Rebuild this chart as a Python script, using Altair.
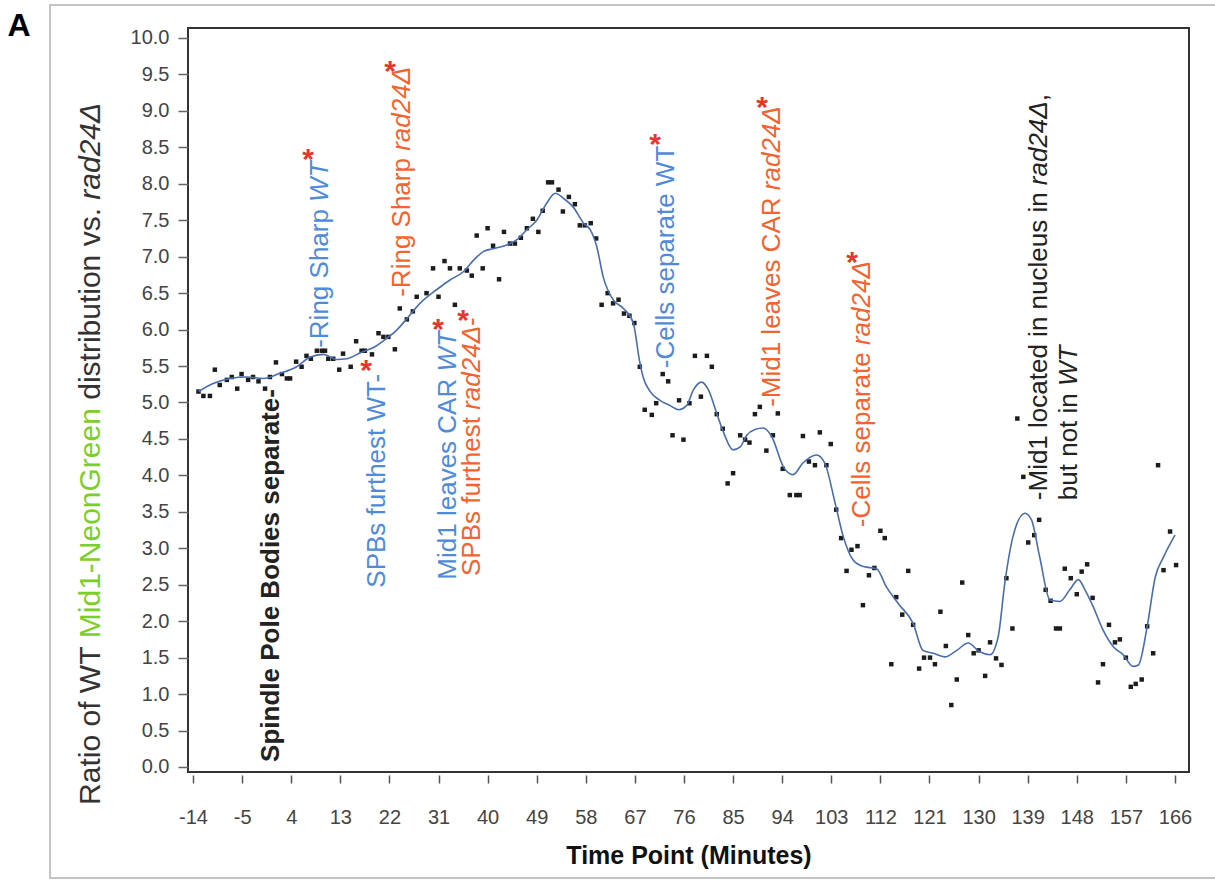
import altair as alt
import pandas as pd

# ---------------- data ----------------
X_TICKS = [-14, -5, 4, 13, 22, 31, 40, 49, 58, 67, 76, 85, 94, 103, 112, 121, 130, 139, 148, 157, 166]
Y_TICKS = [0.0, 0.5, 1.0, 1.5, 2.0, 2.5, 3.0, 3.5, 4.0, 4.5, 5.0, 5.5, 6.0, 6.5, 7.0,
           7.5, 8.0, 8.5, 9.0, 9.5, 10.0]

PT_T = [-13.0, -12.1, -10.9, -10.0, -9.1, -7.8, -6.9, -5.9, -5.1, -3.9, -3.0, -2.0, -0.8, 0.1,
        1.2, 2.3, 3.2, 3.8, 4.9, 5.9, 6.8, 7.6, 8.7, 9.6, 10.2, 10.8, 11.7, 12.8, 13.5, 14.9,
        15.9, 16.9, 17.5, 18.8, 20.0, 20.9, 21.8, 23.0, 23.9, 25.2, 26.3, 27.0, 28.8, 30.0,
        31.0, 32.1, 33.1, 34.0, 34.9, 36.2, 37.1, 38.0, 39.1, 40.0, 41.0, 42.1, 43.0, 44.1,
        45.0, 46.1, 47.2, 48.3, 49.3, 50.1, 51.1, 51.8, 53.0, 53.8, 54.9, 56.0, 56.9, 57.8,
        58.9, 59.9, 60.9, 62.0, 63.0, 64.0, 65.0, 66.0, 66.9, 67.9, 68.8, 70.1, 70.9, 72.1,
        73.1, 73.9, 75.1, 75.9, 77.0, 78.0, 79.1, 80.2, 81.1, 82.0, 83.1, 84.0, 85.0, 86.3,
        87.2, 88.0, 89.0, 89.9, 91.1, 92.3, 93.2, 94.1, 95.4, 96.6, 97.2, 97.8, 98.9, 100.0,
        100.9, 102.1, 102.9, 103.9, 104.8, 105.8, 106.7, 107.8, 108.8, 109.9, 110.9, 112.0,
        112.8, 114.0, 114.9, 116.0, 117.1, 118.0, 119.1, 120.0, 121.1, 122.0, 123.0, 124.0,
        125.0, 126.0, 127.0, 128.1, 129.1, 130.0, 131.2, 132.1, 133.2, 134.2, 135.1, 136.2,
        137.1, 138.2, 139.1, 140.2, 141.1, 142.3, 143.2, 144.2, 144.9, 145.8, 146.9, 148.0,
        148.9, 149.9, 150.9, 151.9, 152.8, 153.9, 155.0, 155.9, 157.0, 157.9, 158.8, 159.9,
        160.9, 162.0, 162.9, 163.9, 165.1, 166.2]
PT_V = [5.15, 5.09, 5.09, 5.45, 5.24, 5.31, 5.35, 5.19, 5.39, 5.31, 5.35, 5.29, 5.19, 5.35,
        5.55, 5.39, 5.33, 5.33, 5.56, 5.49, 5.64, 5.60, 5.71, 5.71, 5.71, 5.60, 5.60, 5.45, 5.67, 5.49,
        5.84, 5.71, 5.71, 5.66, 5.95, 5.90, 5.90, 5.73, 6.29, 6.14, 6.25, 6.45, 6.50, 6.84,
        6.45, 6.94, 6.84, 6.34, 6.84, 6.81, 6.74, 7.29, 6.84, 7.39, 7.15, 6.69, 7.34, 7.18,
        7.18, 7.26, 7.39, 7.52, 7.34, 7.63, 8.02, 8.02, 7.92, 7.62, 7.82, 7.72, 7.43, 7.43,
        7.46, 7.25, 6.34, 6.50, 6.36, 6.41, 6.22, 6.19, 6.09, 5.49, 4.90, 4.83, 4.99, 5.39,
        5.29, 4.55, 5.03, 4.49, 4.99, 5.64, 5.08, 5.64, 5.49, 4.84, 4.64, 3.89, 4.03, 4.55,
        4.49, 4.45, 4.84, 4.94, 4.34, 4.55, 4.85, 4.09, 3.73, 3.73, 3.73, 4.54, 4.19, 4.14,
        4.59, 4.14, 4.43, 3.53, 3.14, 2.69, 2.98, 3.03, 2.22, 2.63, 2.73, 3.24,
        3.14, 1.41, 2.33, 2.09, 2.69, 1.95, 1.35, 1.50, 1.50, 1.41, 2.13, 1.66,
        0.85, 1.20, 2.53, 1.81, 1.56, 1.60, 1.25, 1.71, 1.49, 1.40, 2.59, 1.90,
        4.78, 3.98, 3.08, 3.18, 3.39, 2.43, 2.28, 1.90, 1.90, 2.72, 2.59, 2.37,
        2.68, 2.78, 2.32, 1.16, 1.41, 1.95, 1.71, 1.75, 1.50, 1.10, 1.14, 1.20,
        1.93, 1.56, 4.14, 2.70, 3.23, 2.77]

FIT_T = [-13.0, -10.3, -7.2, -4.2, -1.1, 1.9, 5.0, 7.4, 9.9, 12.3, 14.2, 16.9, 19.0, 21.5,
         23.3, 25.2, 27.6, 30.7, 33.1, 35.5, 37.4, 39.2, 41.0, 43.5, 45.3, 47.2, 49.0, 50.8,
         52.4, 53.9, 55.7, 57.6, 58.8, 60.0, 61.2, 63.0, 64.9, 66.7, 67.9, 68.5, 69.8, 71.6,
         73.4, 75.0, 76.5, 77.7, 79.2, 80.5, 82.0, 83.2, 85.0, 86.3, 87.5, 89.0, 90.5, 92.1,
         94.2, 96.0, 97.8, 100.3, 101.8, 103.7, 105.2, 107.0, 108.9, 111.3, 113.1, 115.3,
         118.0, 119.8, 121.7, 123.8, 126.0, 128.1, 130.2, 132.1, 133.6, 134.8, 136.3, 138.5,
         139.7, 141.2, 143.1, 144.9, 146.7, 148.3, 149.5, 151.0, 152.8, 154.7, 156.5, 158.3,
         159.3, 160.8, 162.4, 163.9, 166.0]
FIT_V = [5.15, 5.26, 5.33, 5.35, 5.33, 5.40, 5.49, 5.62, 5.66, 5.59, 5.60, 5.69, 5.75, 5.88,
         5.99, 6.15, 6.36, 6.55, 6.68, 6.79, 6.95, 7.07, 7.11, 7.16, 7.23, 7.37, 7.50, 7.73,
         7.87, 7.80, 7.68, 7.46, 7.37, 7.14, 6.72, 6.41, 6.29, 6.09, 5.55, 5.35, 5.15, 5.03,
         4.96, 4.90, 4.96, 5.17, 5.28, 5.17, 4.85, 4.60, 4.35, 4.39, 4.55, 4.63, 4.65, 4.53,
         4.12, 4.01, 4.17, 4.28, 4.17, 3.62, 3.16, 2.84, 2.75, 2.72, 2.47, 2.24,
         1.97, 1.60, 1.56, 1.51, 1.60, 1.70, 1.58, 1.54, 1.79, 2.52, 3.16, 3.48,
         3.39, 2.88, 2.29, 2.27, 2.43, 2.57, 2.43, 2.20, 1.88, 1.65, 1.54, 1.38,
         1.40, 1.88, 2.61, 2.88, 3.18]

BLUE = "#4f8bd9"
ORANGE = "#f2632f"
RED = "#e8352b"
DARK = "#222222"
GREEN = "#7ccf2a"

# annotation texts: (time, value where text starts, font size, segments)
ANN_X = [0.30, 9.28, 24.31, 19.73, 32.74, 37.14, 72.70, 92.13, 108.63, 141.08, 146.58, -32.7]
ANN_Y = [0.07, 5.75, 6.45, 2.46, 2.57, 2.62, 5.47, 4.94, 3.29, 3.66, 3.66, -0.52]
ANN_FS = [26, 26, 26, 26, 26, 26, 26, 26, 26, 26, 26, 30]
ANN_SEGS = [
    [("Spindle Pole Bodies separate-", DARK, "normal", "bold")],
    [("-Ring Sharp ", BLUE, "normal", "normal"), ("WT", BLUE, "italic", "normal")],
    [("-Ring Sharp ", ORANGE, "normal", "normal"), ("rad24Δ", ORANGE, "italic", "normal")],
    [("SPBs furthest WT-", BLUE, "normal", "normal")],
    [("Mid1 leaves CAR ", BLUE, "normal", "normal"), ("WT", BLUE, "italic", "normal")],
    [("SPBs furthest ", ORANGE, "normal", "normal"), ("rad24Δ", ORANGE, "italic", "normal"),
     ("-", ORANGE, "normal", "normal")],
    [("-Cells separate WT", BLUE, "normal", "normal")],
    [("-Mid1 leaves CAR ", ORANGE, "normal", "normal"), ("rad24Δ", ORANGE, "italic", "normal")],
    [("-Cells separate ", ORANGE, "normal", "normal"), ("rad24Δ", ORANGE, "italic", "normal")],
    [("-Mid1 located in nucleus in ", DARK, "normal", "normal"), ("rad24Δ", DARK, "italic", "normal"),
     (",", DARK, "normal", "normal")],
    [("but not in ", DARK, "normal", "normal"), ("WT", DARK, "italic", "normal")],
    [("Ratio of WT ", "#333333", "normal", "normal"), ("Mid1-NeonGreen", GREEN, "normal", "normal"),
     (" distribution vs. ", "#333333", "normal", "normal"), ("rad24Δ", "#333333", "italic", "normal")],
]

STAR_X = [7.08, 22.11, 17.71, 30.91, 35.49, 70.69, 90.30, 106.80]
STAR_Y = [8.44, 9.64, 5.54, 6.10, 6.23, 8.64, 9.15, 7.02]

# ---------------- layout ----------------
W, H = 1001, 744
X_DOM = [-14.92, 168.57]
Y_DOM = [-0.0686, 10.137]
PXU = H / (Y_DOM[1] - Y_DOM[0])

REG = {" ": 278, "-": 333, ".": 278, ",": 278, "A": 667, "B": 667, "C": 722, "G": 778, "M": 833,
       "N": 722, "P": 667, "R": 722, "S": 667, "T": 611, "W": 944, "a": 556, "b": 556, "c": 500,
       "d": 556, "e": 556, "f": 278, "g": 556, "h": 556, "i": 222, "l": 222, "n": 556, "o": 556,
       "p": 556, "r": 333, "s": 500, "t": 278, "u": 556, "v": 500, "Δ": 668}
BOLD = {" ": 278, "-": 333, "S": 667, "P": 667, "B": 722, "p": 611, "i": 278, "n": 611, "d": 611,
        "l": 278, "e": 556, "o": 611, "s": 556, "a": 556, "r": 389, "t": 333}


def text_w(s, fs, weight):
    tab = BOLD if weight == "bold" else REG
    return sum(tab.get(c, 556) for c in s) / 1000.0 * fs


rows = []
for x0, y0, fs, segs in zip(ANN_X, ANN_Y, ANN_FS, ANN_SEGS):
    cum = 0.0
    for s, col, style, weight in segs:
        lead = s[: len(s) - len(s.lstrip(" "))]
        start = cum + text_w(lead, fs, weight)
        rows.append({"t": x0, "v": y0 + start / PXU, "txt": s.strip(" "), "col": col,
                     "style": style, "weight": weight, "fs": fs})
        cum += text_w(s, fs, weight)
ann = pd.DataFrame(rows)

pts = pd.DataFrame({"t": PT_T, "v": PT_V})
fit = pd.DataFrame({"t": FIT_T, "v": FIT_V})
stars = pd.DataFrame({"t": STAR_X, "v": STAR_Y})

xs = alt.Scale(domain=X_DOM, nice=False, zero=False)
ys = alt.Scale(domain=Y_DOM, nice=False, zero=False)
FONT = "Liberation Sans"

X_AXIS = alt.Axis(
    values=X_TICKS, title="Time Point (Minutes)", domain=False, offset=3, tickSize=8,
    tickColor="#555555", tickWidth=1.5, labelFontSize=20, labelColor="#444444", labelPadding=24,
    labelFont=FONT, titleFont=FONT, titleFontSize=25, titleFontWeight="bold", titleColor="#111111",
    titleY=68, titleBaseline="top", grid=False, labelFlush=False, labelOverlap=False,
    labelExpr="datum.value < 0 ? '-' + abs(datum.value) : '' + datum.value")
Y_AXIS = alt.Axis(
    values=Y_TICKS, format=".1f", title=None, domain=False, tickSize=10, tickColor="#666666",
    tickWidth=1.5, labelFontSize=20, labelColor="#444444", labelPadding=9, labelFont=FONT,
    grid=False, labelOverlap=False, labelFlush=False)

ENC_X = alt.X("t:Q", scale=xs, axis=X_AXIS)
ENC_Y = alt.Y("v:Q", scale=ys, axis=Y_AXIS)

points = alt.Chart(pts).mark_square(size=20, color="#1c1c1c", opacity=1).encode(x=ENC_X, y=ENC_Y)
line = alt.Chart(fit).mark_line(color="#4a6db0", strokeWidth=1.6, interpolate="monotone").encode(
    x=ENC_X, y=ENC_Y)


def text_layer(style, weight):
    d = ann[(ann["style"] == style) & (ann["weight"] == weight)]
    return alt.Chart(d).mark_text(align="left", baseline="middle", angle=270, font=FONT,
                                  fontStyle=style, fontWeight=weight).encode(
        x=ENC_X, y=ENC_Y, text="txt:N",
        color=alt.Color("col:N", scale=None), size=alt.Size("fs:Q", scale=None))


star_layer = alt.Chart(stars).mark_text(text="*", font=FONT, fontSize=30, fontWeight="bold",
                                        color=RED, align="center", baseline="alphabetic", dy=17).encode(
    x=ENC_X, y=ENC_Y)

label_a = alt.Chart(pd.DataFrame({"lab": ["A"]})).mark_text(
    font=FONT, fontSize=32, fontWeight="bold", color="#000000", align="center", baseline="middle").encode(
    x=alt.value(-169), y=alt.value(-2), text="lab:N")

border = alt.Chart(pd.DataFrame({"k": [0]})).mark_rect(fill="transparent", stroke="#c4c4c4",
                                                        strokeWidth=2).encode(
    x=alt.value(-138), x2=alt.value(1040), y=alt.value(-23), y2=alt.value(850))

chart = alt.layer(
    points, line, border,
    text_layer("normal", "normal"), text_layer("italic", "normal"), text_layer("normal", "bold"),
    star_layer, label_a,
).properties(
    width=W, height=H,
    padding={"left": 188, "top": 28, "right": 26, "bottom": 108},
    autosize=alt.AutoSizeParams(type="none"),
    background="white",
).configure_view(stroke="#333333", strokeWidth=2).configure_axis(labelOverlap=False)

chart.save("out.html", embed_options={"renderer": "svg", "actions": False})
